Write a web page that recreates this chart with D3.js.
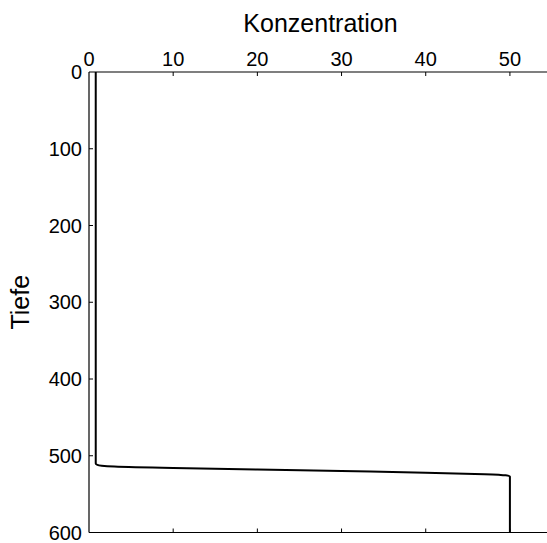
<!DOCTYPE html>
<html>
<head>
<meta charset="utf-8">
<script src="https://cdn.jsdelivr.net/npm/d3@7"></script>
<style>
  html, body { margin: 0; padding: 0; background: #fff; }
  svg { display: block; }
  text { font-family: "Liberation Sans", Arial, sans-serif; fill: #000; }
</style>
</head>
<body>
<svg id="chart" width="547" height="543"></svg>
<script>
// Data
const depth = [0, 100, 200, 300, 400, 500, 510, 512, 513, 514, 516, 518, 520, 522, 524, 525.5, 527, 560, 600];
const conc  = [0.8, 0.8, 0.8, 0.8, 0.8, 0.8, 0.8, 1.0, 1.5, 3, 10, 20, 30, 40, 47, 49.5, 50, 50, 50];
const xTicks = [10, 20, 30, 40, 50];
const yTicks = [0, 100, 200, 300, 400, 500, 600];
const xLabel = "Konzentration";
const yLabel = "Tiefe";

const svg = d3.select("#chart");
const pLeft = 89, pRight = 552, pTop = 72, pBottom = 532.5;

const x = d3.scaleLinear().domain([0, 55]).range([pLeft, pRight]);
const y = d3.scaleLinear().domain([0, 600]).range([pTop, pBottom]);

const tickFont = 20, titleFont = 25;

// Top axis: labels above, ticks inward (downward)
const gTop = svg.append("g").attr("transform", `translate(0,${pTop})`);
gTop.append("line").attr("x1", pLeft).attr("x2", 547).attr("y1", 0).attr("y2", 0)
  .attr("stroke", "#000").attr("stroke-width", 1.2);
gTop.selectAll(".tk").data(xTicks).enter().append("line")
  .attr("x1", d => x(d)).attr("x2", d => x(d)).attr("y1", 0).attr("y2", 4)
  .attr("stroke", "#000").attr("stroke-width", 1);
gTop.selectAll(".lb").data([0].concat(xTicks)).enter().append("text")
  .attr("x", d => x(d)).attr("y", -6)
  .attr("text-anchor", "middle").style("font-size", tickFont + "px")
  .text(d => d);

// Bottom axis: ticks inward (upward), no labels
const gBot = svg.append("g").attr("transform", `translate(0,${pBottom})`);
gBot.append("line").attr("x1", pLeft).attr("x2", 547).attr("y1", 0).attr("y2", 0)
  .attr("stroke", "#000").attr("stroke-width", 1.2);
gBot.selectAll(".tk").data(xTicks).enter().append("line")
  .attr("x1", d => x(d)).attr("x2", d => x(d)).attr("y1", 0).attr("y2", -4)
  .attr("stroke", "#000").attr("stroke-width", 1);

// Left axis: ticks inward (rightward), labels on left
const gLeft = svg.append("g").attr("transform", `translate(${pLeft},0)`);
gLeft.append("line").attr("x1", 0).attr("x2", 0).attr("y1", pTop).attr("y2", pBottom)
  .attr("stroke", "#000").attr("stroke-width", 1.2);
gLeft.selectAll(".tk").data(yTicks.slice(1, -1)).enter().append("line")
  .attr("x1", 0).attr("x2", 4).attr("y1", d => y(d)).attr("y2", d => y(d))
  .attr("stroke", "#000").attr("stroke-width", 1);
gLeft.selectAll(".lb").data(yTicks).enter().append("text")
  .attr("x", -7).attr("y", d => y(d)).attr("dy", "0.35em")
  .attr("text-anchor", "end").style("font-size", tickFont + "px")
  .text(d => d);

// Titles
svg.append("text").attr("x", (pLeft + pRight) / 2).attr("y", 32)
  .attr("text-anchor", "middle").style("font-size", titleFont + "px").text(xLabel);
svg.append("text")
  .attr("transform", `translate(29,${(pTop + pBottom) / 2}) rotate(-90)`)
  .attr("text-anchor", "middle").style("font-size", titleFont + "px").text(yLabel);

// Profile line
const line = d3.line().x((d, i) => x(conc[i])).y(d => y(d)).curve(d3.curveMonotoneY);
svg.append("path").datum(depth)
  .attr("d", line).attr("fill", "none").attr("stroke", "#000").attr("stroke-width", 2);
</script>
</body>
</html>
